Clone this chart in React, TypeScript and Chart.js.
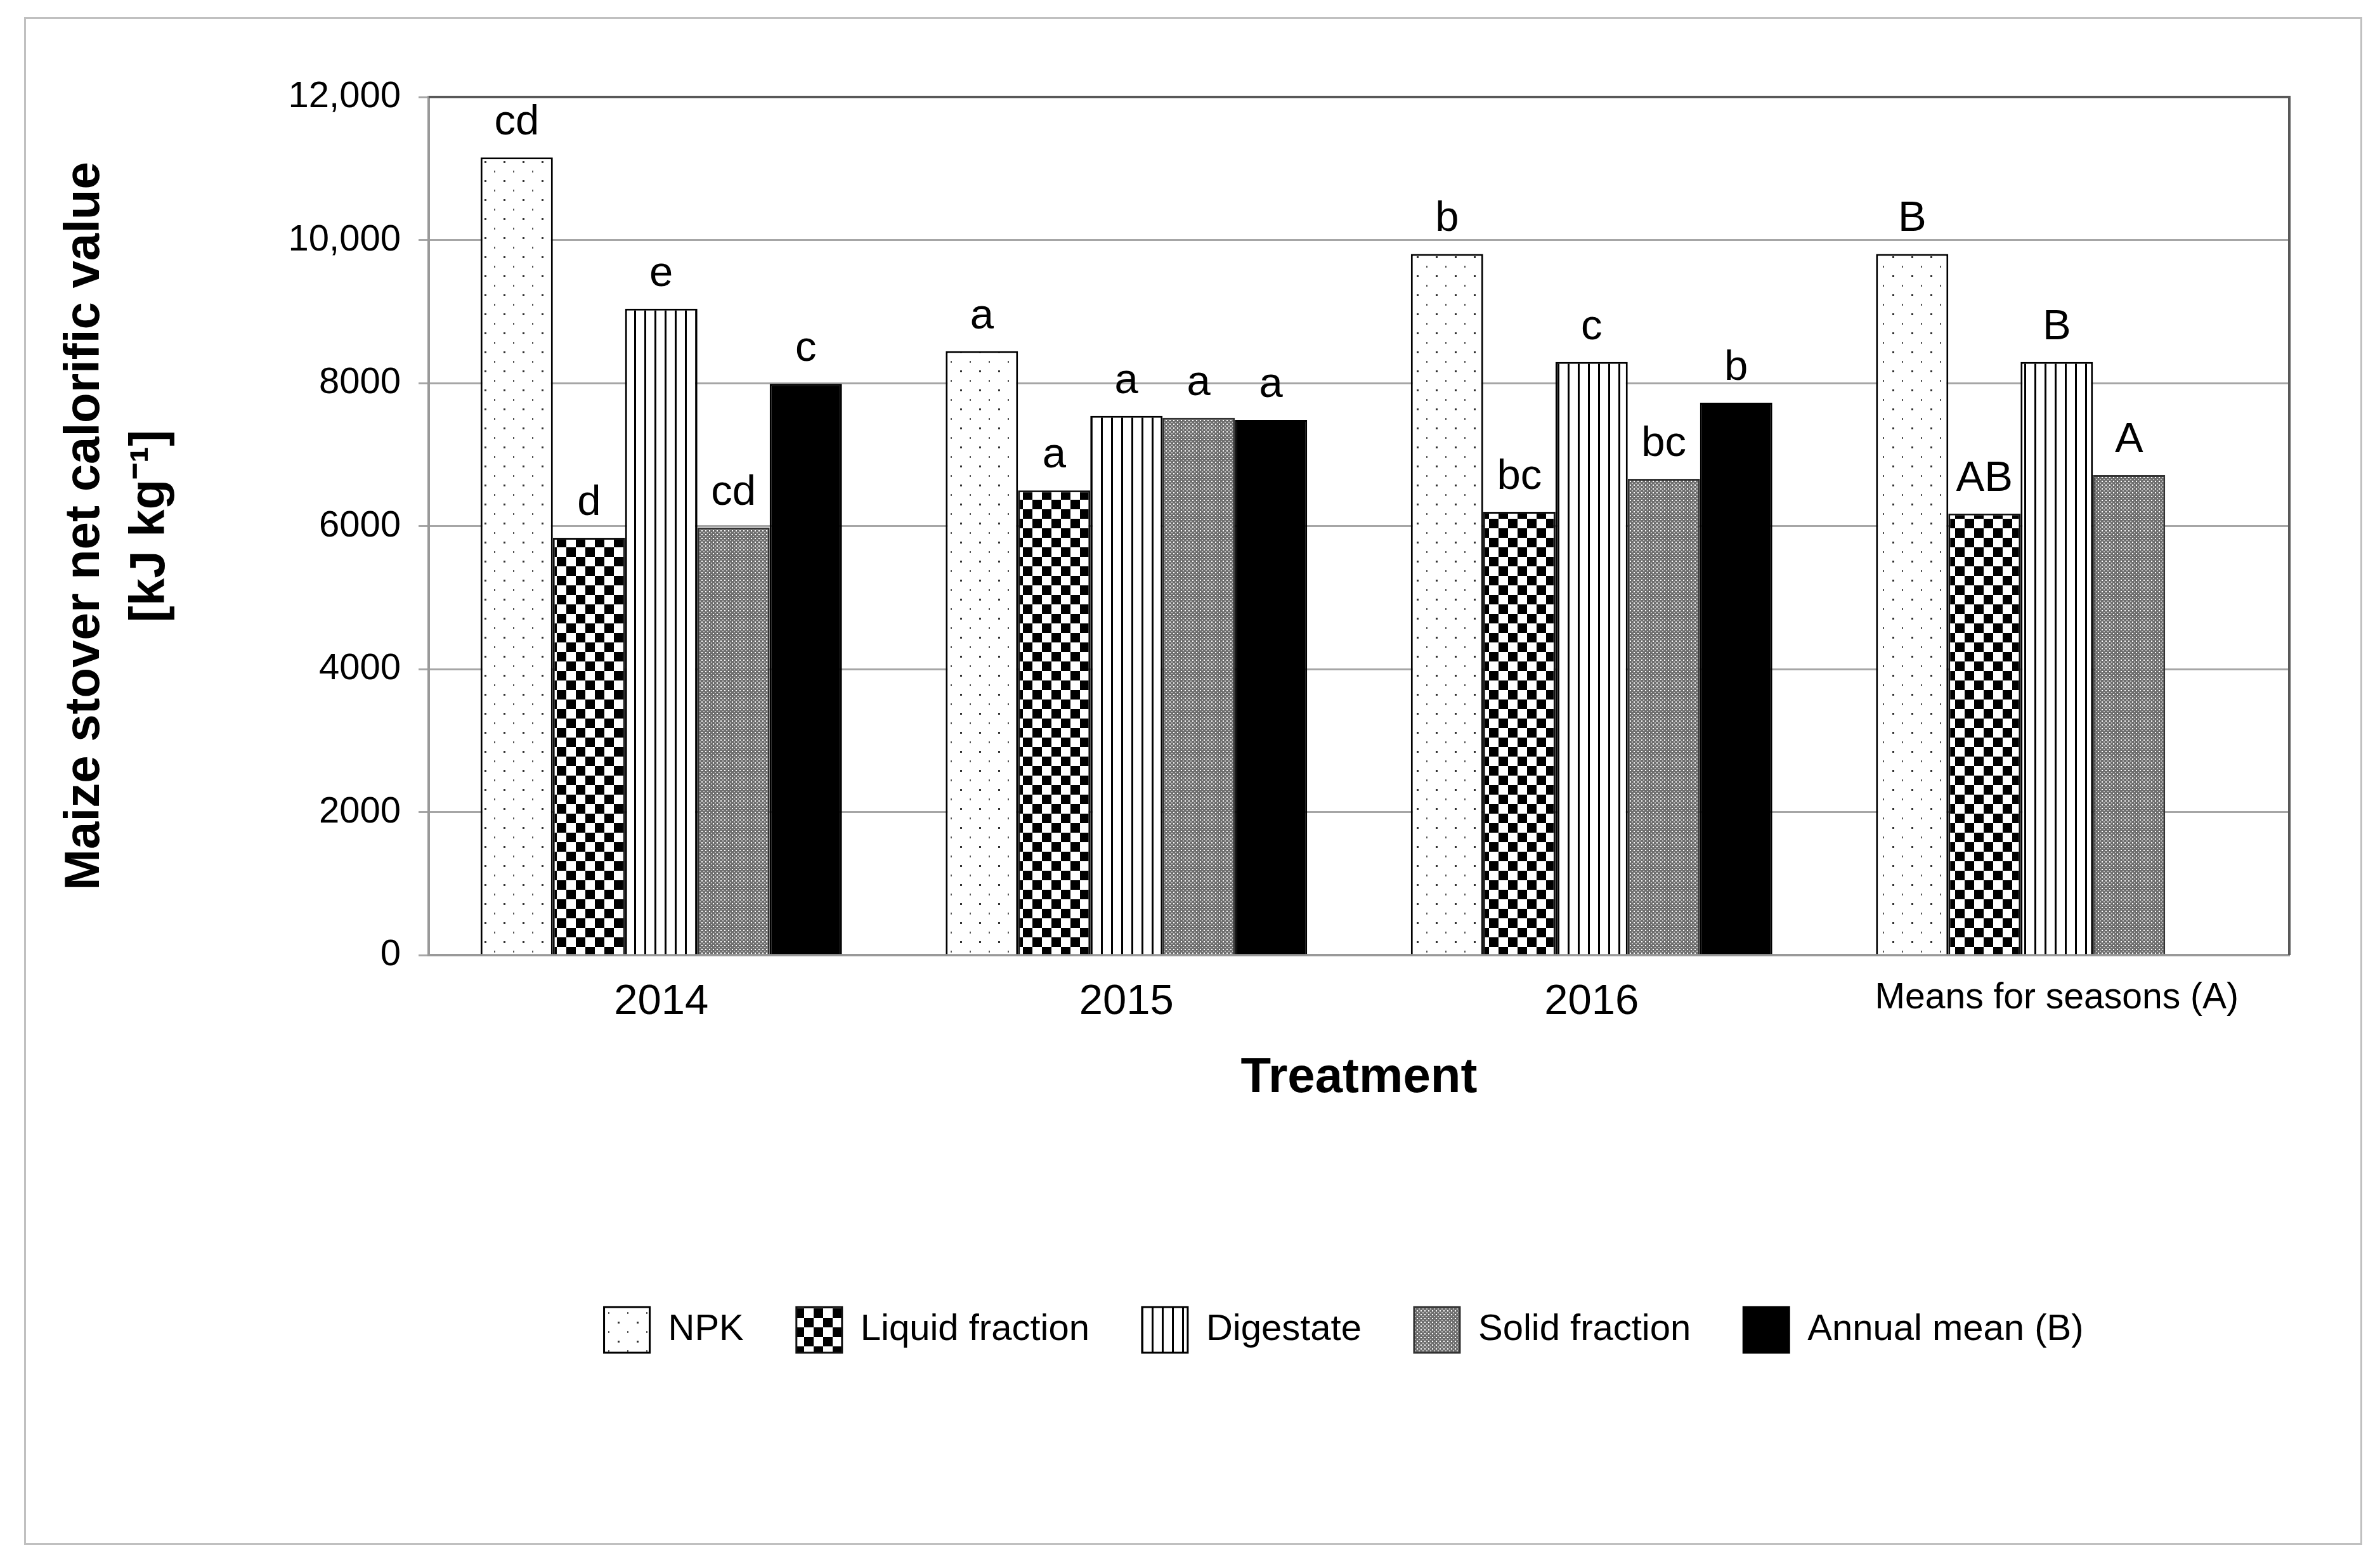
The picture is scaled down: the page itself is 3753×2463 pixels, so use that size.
import React, { useEffect, useRef } from "react";
import { Chart, registerables } from "chart.js";

Chart.register(...registerables);

const categories = ["2014", "2015", "2016", "Means for seasons (A)"];
const seriesNames = ["NPK", "Liquid fraction", "Digestate", "Solid fraction", "Annual mean (B)"];
const npkValues = [11155, 8445, 9805, 9805];
const liquidValues = [5835, 6500, 6200, 6175];
const digestateValues = [9040, 7540, 8295, 8295];
const solidValues = [5980, 7515, 6660, 6715];
const annualValues: (number | null)[] = [7990, 7485, 7725, null];
const npkLetters = ["cd", "a", "b", "B"];
const liquidLetters = ["d", "a", "bc", "AB"];
const digestateLetters = ["e", "a", "c", "B"];
const solidLetters = ["cd", "a", "bc", "A"];
const annualLetters = ["c", "a", "b", ""];
const yTickLabels = ["0", "2000", "4000", "6000", "8000", "10,000", "12,000"];
const xTitle = "Treatment";
const yTitle = ["Maize stover net calorific value", "[kJ kg\u207B\u00B9]"];

const FONT = "'Liberation Sans', Arial, sans-serif";

function makePattern(w: number, h: number, draw: (g: CanvasRenderingContext2D) => void) {
  const c = document.createElement("canvas");
  c.width = w;
  c.height = h;
  const g = c.getContext("2d")!;
  draw(g);
  return g.createPattern(c, "repeat")!;
}

export default function App() {
  const ref = useRef<HTMLCanvasElement>(null);

  useEffect(() => {
    if (!ref.current) return;

    const dots = makePattern(30, 30, (g) => {
      g.fillStyle = "#ffffff";
      g.fillRect(0, 0, 30, 30);
      g.fillStyle = "#333333";
      g.fillRect(6, 6, 3, 3);
      g.fillStyle = "#555555";
      g.fillRect(21, 21, 2, 3);
    });
    const checker = makePattern(30, 30, (g) => {
      g.fillStyle = "#ffffff";
      g.fillRect(0, 0, 30, 30);
      g.fillStyle = "#000000";
      g.fillRect(0, 0, 15, 15);
      g.fillRect(15, 15, 15, 15);
    });
    const vlines = makePattern(16, 16, (g) => {
      g.fillStyle = "#ffffff";
      g.fillRect(0, 0, 16, 16);
      g.fillStyle = "#000000";
      g.fillRect(0, 0, 3, 16);
    });
    const fine = makePattern(6, 6, (g) => {
      g.fillStyle = "#6e6e6e";
      g.fillRect(0, 0, 6, 6);
      g.fillStyle = "#ffffff";
      g.fillRect(0, 0, 2, 2);
      g.fillStyle = "#c0c0c0";
      g.fillRect(3, 3, 2, 2);
    });

    const letters = [npkLetters, liquidLetters, digestateLetters, solidLetters, annualLetters];

    const bgPlugin = {
      id: "bgFrame",
      beforeDraw(chart: any) {
        const ctx = chart.ctx;
        ctx.save();
        ctx.fillStyle = "#ffffff";
        ctx.fillRect(0, 0, chart.width, chart.height);
        ctx.strokeStyle = "#c0c0c0";
        ctx.lineWidth = 3;
        ctx.strokeRect(31.5, 20.5, 3684, 2406);
        ctx.restore();
      },
      afterLayout(chart: any) {
        const lg = chart.legend;
        if (lg) {
          lg.left -= 24;
          lg.right -= 24;
        }
      },
      afterDatasetsDraw(chart: any) {
        const ctx = chart.ctx;
        const { left, right, top, bottom } = chart.chartArea;
        ctx.save();
        ctx.strokeStyle = "#595959";
        ctx.lineWidth = 4;
        ctx.beginPath();
        ctx.moveTo(left, top);
        ctx.lineTo(right, top);
        ctx.lineTo(right, bottom);
        ctx.stroke();

        ctx.fillStyle = "#000000";
        ctx.font = `67px ${FONT}`;
        ctx.textAlign = "center";
        ctx.textBaseline = "alphabetic";
        chart.data.datasets.forEach((ds: any, i: number) => {
          const meta = chart.getDatasetMeta(i);
          meta.data.forEach((el: any, j: number) => {
            const v = ds.data[j];
            if (v === null || v === undefined) return;
            const t = letters[i][j];
            if (!t) return;
            ctx.fillText(t, el.x, el.y - 36);
          });
        });
        ctx.restore();
      },
    };

    const chart = new Chart(ref.current, {
      type: "bar",
      data: {
        labels: categories,
        datasets: [
          { label: seriesNames[0], data: npkValues, backgroundColor: dots, borderColor: "#000000", borderWidth: 3 },
          { label: seriesNames[1], data: liquidValues, backgroundColor: checker, borderColor: "#111111", borderWidth: 3 },
          { label: seriesNames[2], data: digestateValues, backgroundColor: vlines, borderColor: "#000000", borderWidth: 3 },
          { label: seriesNames[3], data: solidValues, backgroundColor: fine, borderColor: "#333333", borderWidth: 3 },
          { label: seriesNames[4], data: annualValues, backgroundColor: "#000000", borderColor: "#000000", borderWidth: 3 },
        ],
      },
      options: {
        responsive: false,
        animation: false,
        devicePixelRatio: 1,
        datasets: { bar: { categoryPercentage: 0.777, barPercentage: 1 } },
        layout: { padding: { left: 0, top: 145, right: 135, bottom: 312 } },
        plugins: {
          legend: {
            position: "bottom",
            fullSize: false,
            labels: {
              boxWidth: 72,
              boxHeight: 72,
              padding: 83,
              color: "#000000",
              font: { family: FONT, size: 58 },
            },
          },
          tooltip: { enabled: false },
        },
        scales: {
          x: {
            z: 1,
            grid: { display: false, drawTicks: false },
            border: { display: true, color: "#999999", width: 4 },
            ticks: {
              color: "#000000",
              padding: 34,
              maxRotation: 0,
              autoSkip: false,
              font: (ctx: any) => ({ family: FONT, size: ctx.index === 3 ? 57 : 67 }),
            },
            title: {
              display: true,
              text: xTitle,
              color: "#000000",
              font: { family: FONT, size: 78, weight: "bold", lineHeight: 1.2 },
              padding: { top: 0, bottom: 231 },
            },
            afterFit: (s: any) => {
              s.height = 472;
            },
          },
          y: {
            min: 0,
            max: 12000,
            ticks: {
              stepSize: 2000,
              padding: 28,
              color: "#000000",
              font: { family: FONT, size: 58 },
              callback: (_v: any, i: number) => yTickLabels[i],
            },
            grid: { color: "#a6a6a6", lineWidth: 3, tickLength: 16, drawTicks: true },
            border: { color: "#999999", width: 4 },
            title: {
              display: true,
              text: yTitle,
              color: "#000000",
              font: { family: FONT, size: 78, weight: "bold", lineHeight: 1.333 },
              padding: { top: 74, bottom: 0 },
            },
            afterFit: (s: any) => {
              s.width = 668;
            },
          },
        },
      } as any,
      plugins: [bgPlugin],
    });

    return () => chart.destroy();
  }, []);

  return (
    <div style={{ width: 3737, height: 2447 }}>
      <canvas ref={ref} width={3737} height={2447} style={{ display: "block", width: 3737, height: 2447 }} />
    </div>
  );
}
